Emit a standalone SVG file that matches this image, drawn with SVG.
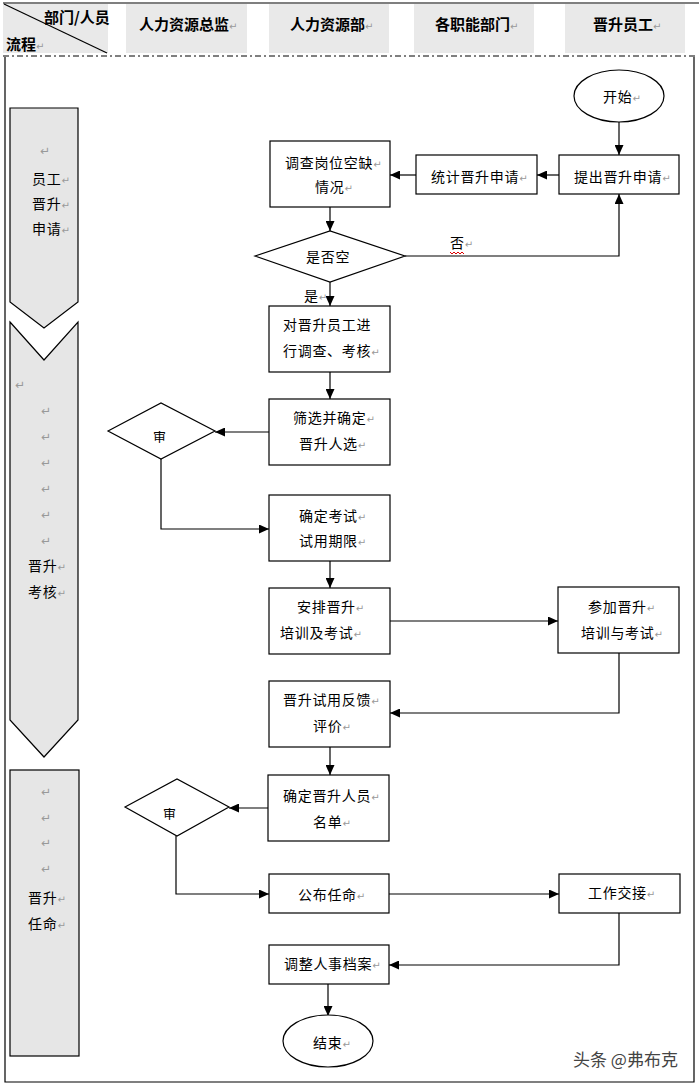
<svg xmlns="http://www.w3.org/2000/svg" width="699" height="1084" viewBox="0 0 699 1084">
<style>
.t{font-family:"Noto Sans CJK SC","Liberation Sans",sans-serif;font-size:14px;fill:#000;letter-spacing:0.7px}
.h{font-family:"Noto Sans CJK SC","Liberation Sans",sans-serif;font-size:15px;font-weight:bold;fill:#000}
.r{font-family:"DejaVu Sans",sans-serif;font-size:10px;fill:#999;font-weight:normal;letter-spacing:0}
.box{fill:#fff;stroke:#000;stroke-width:1.2}
.lane{fill:#e6e6e6;stroke:#000;stroke-width:1.2}
.cell{fill:#e9e9e9}
.c{fill:none;stroke:#000;stroke-width:1.2}
.wm{font-family:"Noto Sans CJK SC",sans-serif;font-size:17px;fill:#444}
</style>
<defs>
<marker id="ah" markerWidth="10" markerHeight="9" refX="10" refY="4.5" orient="auto" markerUnits="userSpaceOnUse">
<path d="M0,0 L10,4.5 L0,9 z" fill="#000"/>
</marker>
<clipPath id="cl1"><rect x="140" y="431" width="40" height="20"/></clipPath>
<clipPath id="cl2"><rect x="150" y="808" width="40" height="20"/></clipPath>
</defs>
<rect width="699" height="1084" fill="#fff"/>

<g id="header">
<line x1="3" y1="3" x2="699" y2="3" stroke="#000" stroke-width="1.2"/>
<rect class="cell" x="3" y="4" width="105" height="49"/>
<line x1="4" y1="4" x2="107" y2="53" stroke="#000" stroke-width="1.2"/>
<text class="h" x="44" y="23">部门/人员</text>
<text class="h" x="6" y="50">流程<tspan class="r">↵</tspan></text>
<rect class="cell" x="126" y="4" width="121" height="49"/>
<text class="h" x="139" y="30">人力资源总监<tspan class="r">↵</tspan></text>
<rect class="cell" x="269" y="4" width="120" height="49"/>
<text class="h" x="290" y="30">人力资源部<tspan class="r">↵</tspan></text>
<rect class="cell" x="414" y="4" width="120" height="49"/>
<text class="h" x="435" y="30">各职能部门<tspan class="r">↵</tspan></text>
<rect class="cell" x="565" y="4" width="120" height="49"/>
<text class="h" x="593" y="30">晋升员工<tspan class="r">↵</tspan></text>
<line x1="3" y1="56" x2="697" y2="56" stroke="#000" stroke-width="1" stroke-dasharray="6 3 2 3"/>
</g>

<g id="frame">
<polyline points="5,57 5,1082 694,1082 694,57" fill="none" stroke="#000" stroke-width="1.2"/>
</g>

<g id="lane-apply">
<polygon class="lane" points="10,108 78,108 78,302 44,328 10,302"/>
<text class="r" x="40" y="155" style="font-size:12px">↵</text>
<text class="t" x="32" y="184">员工<tspan class="r">↵</tspan></text>
<text class="t" x="32" y="209">晋升<tspan class="r">↵</tspan></text>
<text class="t" x="32" y="234">申请<tspan class="r">↵</tspan></text>
</g>

<g id="lane-assess">
<polygon class="lane" points="10,322 44,360 78,322 78,720 44,757 10,720"/>
<text class="r" x="15" y="389" style="font-size:12px">↵</text>
<text class="r" x="41" y="415" style="font-size:12px">↵</text>
<text class="r" x="41" y="441" style="font-size:12px">↵</text>
<text class="r" x="41" y="467" style="font-size:12px">↵</text>
<text class="r" x="41" y="493" style="font-size:12px">↵</text>
<text class="r" x="41" y="519" style="font-size:12px">↵</text>
<text class="r" x="41" y="545" style="font-size:12px">↵</text>
<text class="t" x="28" y="571">晋升<tspan class="r">↵</tspan></text>
<text class="t" x="28" y="597">考核<tspan class="r">↵</tspan></text>
</g>

<g id="lane-appoint">
<rect class="lane" x="10" y="770" width="69" height="286"/>
<text class="r" x="41" y="796" style="font-size:12px">↵</text>
<text class="r" x="41" y="822" style="font-size:12px">↵</text>
<text class="r" x="41" y="847" style="font-size:12px">↵</text>
<text class="r" x="41" y="873" style="font-size:12px">↵</text>
<text class="t" x="28" y="903">晋升<tspan class="r">↵</tspan></text>
<text class="t" x="28" y="929">任命<tspan class="r">↵</tspan></text>
</g>

<g id="connectors">
<line class="c" x1="619" y1="122" x2="619" y2="155" marker-end="url(#ah)"/>
<line class="c" x1="559" y1="175" x2="537" y2="175" marker-end="url(#ah)"/>
<line class="c" x1="416" y1="175" x2="390" y2="175" marker-end="url(#ah)"/>
<line class="c" x1="330" y1="207" x2="330" y2="231" marker-end="url(#ah)"/>
<polyline class="c" points="405,256 619,256 619,194" marker-end="url(#ah)"/>
<line class="c" x1="330" y1="282" x2="330" y2="306" marker-end="url(#ah)"/>
<line class="c" x1="330" y1="372" x2="330" y2="399" marker-end="url(#ah)"/>
<line class="c" x1="269" y1="432" x2="215" y2="432" marker-end="url(#ah)"/>
<polyline class="c" points="161,459 161,529 269,529" marker-end="url(#ah)"/>
<line class="c" x1="330" y1="561" x2="330" y2="588" marker-end="url(#ah)"/>
<line class="c" x1="390" y1="621" x2="558" y2="621" marker-end="url(#ah)"/>
<polyline class="c" points="619,653 619,713 390,713" marker-end="url(#ah)"/>
<line class="c" x1="330" y1="747" x2="330" y2="775" marker-end="url(#ah)"/>
<line class="c" x1="268" y1="808" x2="229" y2="808" marker-end="url(#ah)"/>
<polyline class="c" points="176,836 176,894 269,894" marker-end="url(#ah)"/>
<line class="c" x1="389" y1="894" x2="559" y2="894" marker-end="url(#ah)"/>
<polyline class="c" points="619,913 619,965 389,965" marker-end="url(#ah)"/>
<line class="c" x1="328" y1="984" x2="328" y2="1016" marker-end="url(#ah)"/>
<text class="t" x="450" y="248">否<tspan class="r">↵</tspan></text>
<path d="M450,252 l2,2 l2,-2 l2,2 l2,-2 l2,2 l2,-2 l2,2" fill="none" stroke="#d00" stroke-width="1"/>
<text class="t" x="304" y="301">是<tspan class="r">↵</tspan></text>
</g>

<g id="start">
<ellipse class="box" cx="619" cy="96" rx="45" ry="26"/>
<text class="t" x="603" y="102">开始<tspan class="r">↵</tspan></text>
</g>
<g id="submit">
<rect class="box" x="559" y="155" width="120" height="39"/>
<text class="t" x="574" y="182">提出晋升申请<tspan class="r">↵</tspan></text>
</g>
<g id="collect">
<rect class="box" x="416" y="155" width="121" height="39"/>
<text class="t" x="431" y="182">统计晋升申请<tspan class="r">↵</tspan></text>
</g>
<g id="survey">
<rect class="box" x="270" y="141" width="120" height="66"/>
<text class="t" x="285" y="168">调查岗位空缺<tspan class="r">↵</tspan></text>
<text class="t" x="315" y="192">情况<tspan class="r">↵</tspan></text>
</g>
<g id="vacant">
<polygon class="box" points="255,256 330,231 405,256 330,282"/>
<text class="t" x="306" y="262">是否空</text>
</g>
<g id="investigate">
<rect class="box" x="269" y="306" width="121" height="66"/>
<text class="t" x="283" y="330">对晋升员工进</text>
<text class="t" x="283" y="356">行调查、考核<tspan class="r">↵</tspan></text>
</g>
<g id="screen">
<rect class="box" x="269" y="399" width="121" height="66"/>
<text class="t" x="293" y="423">筛选并确定<tspan class="r">↵</tspan></text>
<text class="t" x="299" y="449">晋升人选<tspan class="r">↵</tspan></text>
</g>
<g id="review1">
<polygon class="box" points="108,431 161,403 215,431 161,459"/>
<text class="t" x="153" y="441" clip-path="url(#cl1)" style="font-size:13px">审</text>
</g>
<g id="period">
<rect class="box" x="269" y="495" width="121" height="66"/>
<text class="t" x="299" y="521">确定考试<tspan class="r">↵</tspan></text>
<text class="t" x="299" y="546">试用期限<tspan class="r">↵</tspan></text>
</g>
<g id="arrange">
<rect class="box" x="269" y="588" width="121" height="66"/>
<text class="t" x="297" y="612">安排晋升<tspan class="r">↵</tspan></text>
<text class="t" x="280" y="638">培训及考试<tspan class="r">↵</tspan></text>
</g>
<g id="attend">
<rect class="box" x="558" y="587" width="121" height="66"/>
<text class="t" x="588" y="612">参加晋升<tspan class="r">↵</tspan></text>
<text class="t" x="581" y="638">培训与考试<tspan class="r">↵</tspan></text>
</g>
<g id="feedback">
<rect class="box" x="269" y="681" width="121" height="66"/>
<text class="t" x="283" y="705">晋升试用反馈<tspan class="r">↵</tspan></text>
<text class="t" x="313" y="731">评价<tspan class="r">↵</tspan></text>
</g>
<g id="namelist">
<rect class="box" x="268" y="775" width="121" height="66"/>
<text class="t" x="283" y="801">确定晋升人员<tspan class="r">↵</tspan></text>
<text class="t" x="313" y="827">名单<tspan class="r">↵</tspan></text>
</g>
<g id="review2">
<polygon class="box" points="125,807 177,779 229,807 177,836"/>
<text class="t" x="163" y="818" clip-path="url(#cl2)" style="font-size:13px">审</text>
</g>
<g id="announce">
<rect class="box" x="269" y="874" width="120" height="39"/>
<text class="t" x="298" y="900">公布任命<tspan class="r">↵</tspan></text>
</g>
<g id="handover">
<rect class="box" x="559" y="874" width="121" height="39"/>
<text class="t" x="588" y="898">工作交接<tspan class="r">↵</tspan></text>
</g>
<g id="archive">
<rect class="box" x="269" y="945" width="120" height="39"/>
<text class="t" x="284" y="969">调整人事档案<tspan class="r">↵</tspan></text>
</g>
<g id="end">
<ellipse class="box" cx="328" cy="1041" rx="45" ry="26"/>
<text class="t" x="313" y="1048">结束<tspan class="r">↵</tspan></text>
</g>

<text class="wm" x="573" y="1066">头条 @弗布克</text>
</svg>
